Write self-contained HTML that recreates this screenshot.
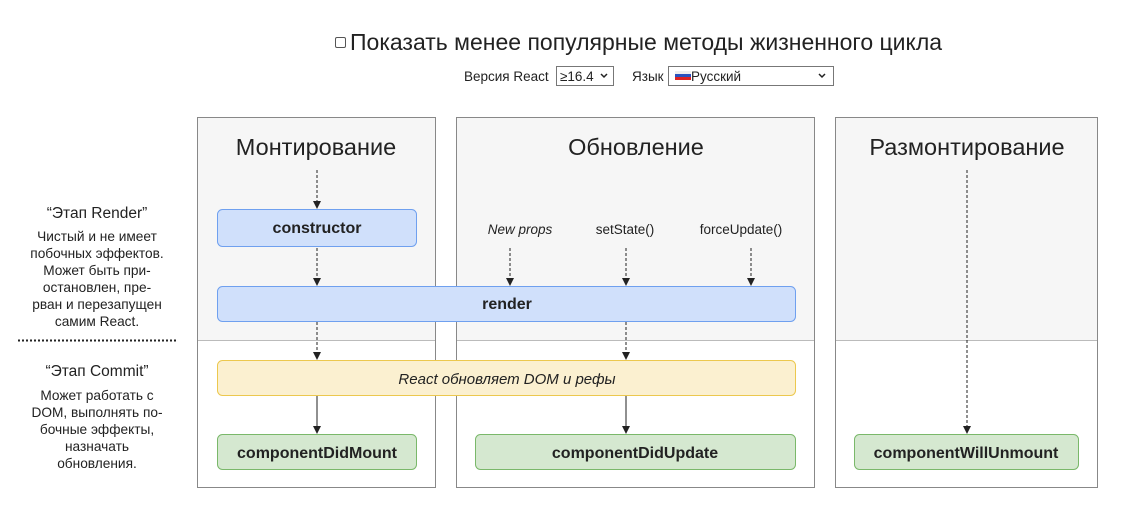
<!DOCTYPE html>
<html><head><meta charset="utf-8"><style>
body{margin:0;width:1132px;height:515px;background:#fff;overflow:hidden;font-family:"Liberation Sans","DejaVu Sans",sans-serif}
svg text{font-family:"Liberation Sans","DejaVu Sans",sans-serif}
</style></head><body>
<svg width="1132" height="515" xmlns="http://www.w3.org/2000/svg">
<defs><marker id="a" markerWidth="8" markerHeight="8" refX="4" refY="7" orient="0" markerUnits="userSpaceOnUse"><path d="M0,0 L8,0 L4,8 z" fill="#222"/></marker></defs>
<rect x="335.5" y="37.5" width="10" height="10" rx="1.5" fill="#fff" stroke="#555"/>
<text x="350" y="50" font-size="23" fill="#222">Показать менее популярные методы жизненного цикла</text>
<text x="464" y="81" font-size="13.5" fill="#222">Версия React</text>
<rect x="556.5" y="66.5" width="57" height="19" fill="#fff" stroke="#777"/>
<text x="560" y="81" font-size="13.5" fill="#222">≥16.4</text>
<path d="M601,74 l3,3 l3,-3" fill="none" stroke="#222" stroke-width="1.5"/>
<text x="632" y="81" font-size="13.5" fill="#222">Язык</text>
<rect x="668.5" y="66.5" width="165" height="19" fill="#fff" stroke="#777"/>
<rect x="675" y="71" width="16" height="3" fill="#eee"/><rect x="675" y="74" width="16" height="3" fill="#2a52be"/><rect x="675" y="77" width="16" height="3" fill="#d22"/>
<text x="691" y="81" font-size="13.5" fill="#222">Русский</text>
<path d="M819,74 l3,3 l3,-3" fill="none" stroke="#222" stroke-width="1.5"/>
<g stroke="#888" stroke-width="1">
<rect x="197.5" y="117.5" width="238" height="370" fill="#fff"/>
<rect x="456.5" y="117.5" width="358" height="370" fill="#fff"/>
<rect x="835.5" y="117.5" width="262" height="370" fill="#fff"/>
</g>
<g fill="#f6f6f6">
<rect x="198" y="118" width="237" height="222"/>
<rect x="457" y="118" width="357" height="222"/>
<rect x="836" y="118" width="261" height="222"/>
</g>
<g stroke="#bbb"><line x1="198" y1="340.5" x2="435" y2="340.5"/><line x1="457" y1="340.5" x2="814" y2="340.5"/><line x1="836" y1="340.5" x2="1097" y2="340.5"/></g>
<g font-size="23.5" fill="#222" text-anchor="middle">
<text x="316" y="155">Монтирование</text>
<text x="636" y="155">Обновление</text>
<text x="967" y="155">Размонтирование</text>
</g>
<rect x="217.5" y="209.5" width="199" height="37" rx="5" fill="#d0e0fb" stroke="#6fa0ef"/>
<rect x="217.5" y="286.5" width="578" height="35" rx="5" fill="#d0e0fb" stroke="#6fa0ef"/>
<rect x="217.5" y="360.5" width="578" height="35" rx="5" fill="#fbf0d0" stroke="#ecc84e"/>
<rect x="217.5" y="434.5" width="199" height="35" rx="5" fill="#d5e8d0" stroke="#7ab86a"/>
<rect x="475.5" y="434.5" width="320" height="35" rx="5" fill="#d5e8d0" stroke="#7ab86a"/>
<rect x="854.5" y="434.5" width="224" height="35" rx="5" fill="#d5e8d0" stroke="#7ab86a"/>
<g font-size="16" font-weight="bold" fill="#222" text-anchor="middle">
<text x="317" y="233">constructor</text>
<text x="507" y="309">render</text>
<text x="317" y="458">componentDidMount</text>
<text x="635" y="458">componentDidUpdate</text>
<text x="966" y="458">componentWillUnmount</text>
</g>
<text x="507" y="384" font-size="15" font-style="italic" fill="#222" text-anchor="middle">React обновляет DOM и рефы</text>
<g font-size="13.5" fill="#222" text-anchor="middle">
<text x="520" y="234" font-style="italic">New props</text>
<text x="625" y="234">setState()</text>
<text x="741" y="234">forceUpdate()</text>
</g>
<g stroke="#222" stroke-width="1" stroke-dasharray="3,2" fill="none" marker-end="url(#a)">
<line x1="317" y1="170" x2="317" y2="208"/>
<line x1="317" y1="248" x2="317" y2="285"/>
<line x1="317" y1="322" x2="317" y2="359"/>
<line x1="510" y1="248" x2="510" y2="285"/>
<line x1="626" y1="248" x2="626" y2="285"/>
<line x1="751" y1="248" x2="751" y2="285"/>
<line x1="626" y1="322" x2="626" y2="359"/>
<line x1="967" y1="170" x2="967" y2="433"/>
</g>
<g stroke="#222" stroke-width="1" fill="none" marker-end="url(#a)">
<line x1="317" y1="396" x2="317" y2="433"/>
<line x1="626" y1="396" x2="626" y2="433"/>
</g>
<g text-anchor="middle" fill="#222">
<text x="97" y="218" font-size="15.5">“Этап Render”</text>
<g font-size="13.7"><text x="97" y="241">Чистый и не имеет</text><text x="97" y="258">побочных эффектов.</text><text x="97" y="275">Может быть при-</text><text x="97" y="292">остановлен, пре-</text><text x="97" y="309">рван и перезапущен</text><text x="97" y="326">самим React.</text></g>
<text x="97" y="376" font-size="15.5">“Этап Commit”</text>
<g font-size="13.7"><text x="97" y="400">Может работать с</text><text x="97" y="417">DOM, выполнять по-</text><text x="97" y="434">бочные эффекты,</text><text x="97" y="451">назначать</text><text x="97" y="468">обновления.</text></g>
</g>
<line x1="18" y1="340.5" x2="178" y2="340.5" stroke="#222" stroke-width="2" stroke-dasharray="2,2"/>
</svg>
</body></html>
